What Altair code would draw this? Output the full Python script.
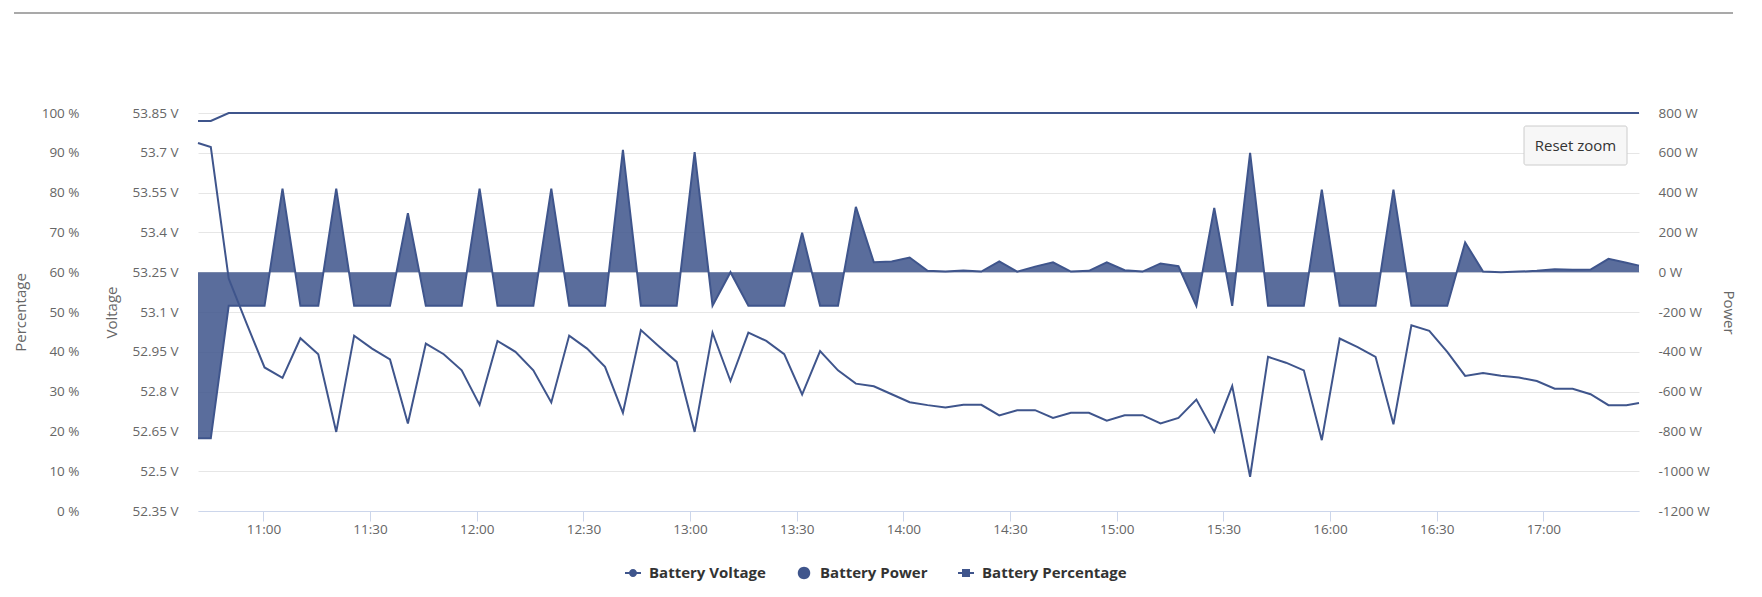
import altair as alt
import pandas as pd

# ---- data ----
times = [
    "10:41:36",
    "10:45:12", "10:50:14", "10:55:17", "11:00:19", "11:05:22", "11:10:24", "11:15:26", "11:20:29", "11:25:31", "11:30:34",
    "11:35:36", "11:40:38", "11:45:41", "11:50:43", "11:55:46", "12:00:48", "12:05:50", "12:10:53", "12:15:55", "12:20:58",
    "12:26:00", "12:31:02", "12:36:05", "12:41:07", "12:46:10", "12:51:12", "12:56:14", "13:01:17", "13:06:19", "13:11:22",
    "13:16:24", "13:21:26", "13:26:29", "13:31:31", "13:36:34", "13:41:36", "13:46:38", "13:51:41", "13:56:43", "14:01:46",
    "14:06:48", "14:11:50", "14:16:53", "14:21:55", "14:26:58", "14:32:00", "14:37:02", "14:42:05", "14:47:07", "14:52:10",
    "14:57:12", "15:02:14", "15:07:17", "15:12:19", "15:17:22", "15:22:24", "15:27:26", "15:32:29", "15:37:31", "15:42:34",
    "15:47:36", "15:52:38", "15:57:41", "16:02:43", "16:07:46", "16:12:48", "16:17:50", "16:22:53", "16:27:55", "16:32:58",
    "16:38:00", "16:43:02", "16:48:05", "16:53:07", "16:58:10", "17:03:12", "17:08:14", "17:13:17", "17:18:19", "17:23:22",
    "17:26:54",
]

voltage = [
    53.737,
    53.722, 53.226, 53.056, 52.891, 52.852, 53.001, 52.941, 52.648, 53.011, 52.962,
    52.921, 52.680, 52.981, 52.941, 52.880, 52.750, 52.991, 52.950, 52.880, 52.759,
    53.011, 52.962, 52.893, 52.720, 53.032, 52.971, 52.912, 52.648, 53.022, 52.840,
    53.022, 52.991, 52.941, 52.789, 52.953, 52.880, 52.830, 52.820, 52.790, 52.760,
    52.749, 52.740, 52.750, 52.750, 52.710, 52.730, 52.730, 52.701, 52.720, 52.720,
    52.690, 52.711, 52.711, 52.680, 52.701, 52.770, 52.648, 52.821, 52.479, 52.931,
    52.909, 52.880, 52.617, 53.000, 52.968, 52.931, 52.677, 53.050, 53.029, 52.950,
    52.859, 52.870, 52.860, 52.853, 52.840, 52.811, 52.811, 52.790, 52.749, 52.749,
    52.757,
]

power = [
    -834,
    -834, -169, -169, -169, 420, -169, -169, 420, -169, -169,
    -169, 297, -169, -169, -169, 420, -169, -169, -169, 420,
    -169, -169, -169, 615, -169, -169, -169, 603, -169, 0,
    -169, -169, -169, 198, -169, -169, 328, 50, 54, 74,
    7, 3, 8, 3, 54, 3, 28, 50, 3, 7,
    50, 10, 3, 44, 30, -169, 323, -169, 600, -169,
    -169, -169, 415, -169, -169, -169, 415, -169, -169, -169,
    150, 3, 0, 3, 7, 15, 12, 13, 67, 47,
    33,
]

percentage = [
    98,
    98, 100, 100, 100, 100, 100, 100, 100, 100, 100,
    100, 100, 100, 100, 100, 100, 100, 100, 100, 100,
    100, 100, 100, 100, 100, 100, 100, 100, 100, 100,
    100, 100, 100, 100, 100, 100, 100, 100, 100, 100,
    100, 100, 100, 100, 100, 100, 100, 100, 100, 100,
    100, 100, 100, 100, 100, 100, 100, 100, 100, 100,
    100, 100, 100, 100, 100, 100, 100, 100, 100, 100,
    100, 100, 100, 100, 100, 100, 100, 100, 100, 100,
    100,
]

time_ticks = ["11:00", "11:30", "12:00", "12:30", "13:00", "13:30", "14:00",
              "14:30", "15:00", "15:30", "16:00", "16:30", "17:00"]
voltage_ticks = [52.35, 52.5, 52.65, 52.8, 52.95, 53.1, 53.25, 53.4, 53.55, 53.7, 53.85]
percent_ticks = [0, 10, 20, 30, 40, 50, 60, 70, 80, 90, 100]
power_ticks = [-1200, -1000, -800, -600, -400, -200, 0, 200, 400, 600, 800]
series_names = ["Battery Voltage", "Battery Power", "Battery Percentage"]

# ---- styling ----
C = "#3f558c"
FONT = "Open Sans"
LABEL = "#666666"

df = pd.DataFrame({
    "time": ["2024-05-01T" + t for t in times],
    "voltage": voltage,
    "power": power,
    "percentage": percentage,
})

tick_values = [
    alt.DateTime(year=2024, month=5, date=1,
                 hours=int(t.split(":")[0]), minutes=int(t.split(":")[1]))
    for t in time_ticks
]

x_enc = alt.X(
    "time:T",
    scale=alt.Scale(nice=False),
    axis=alt.Axis(
        title=None, format="%H:%M", values=tick_values,
        grid=False, domainColor="#ccd6eb", tickColor="#ccd6eb",
        tickSize=10, labelPadding=1, labelFlush=False,
    ),
)

base = alt.Chart(df)

power_layer = base.mark_area(
    color=C, fillOpacity=0.86, line={"color": C, "strokeWidth": 2}
).encode(
    x=x_enc,
    y=alt.Y(
        "power:Q",
        scale=alt.Scale(domain=[-1200, 800], nice=False, zero=False),
        axis=alt.Axis(
            orient="right", values=power_ticks, labelExpr="datum.value + ' W'",
            title="Power", grid=True, gridColor="#e6e6e6", domain=False, ticks=False,
            labelPadding=19, titlePadding=11,
        ),
    ),
    y2=alt.datum(0),
)

voltage_layer = base.mark_line(color=C, strokeWidth=2).encode(
    x=x_enc,
    y=alt.Y(
        "voltage:Q",
        scale=alt.Scale(domain=[52.35, 53.85], nice=False, zero=False),
        axis=alt.Axis(
            orient="left", values=voltage_ticks,
            labelExpr="format(datum.value, '.2~f') + ' V'",
            title="Voltage", grid=False, domain=False, ticks=False,
            labelPadding=20, titlePadding=13,
        ),
    ),
)

percent_layer = base.mark_line(color=C, strokeWidth=2).encode(
    x=x_enc,
    y=alt.Y(
        "percentage:Q",
        scale=alt.Scale(domain=[0, 100], nice=False, zero=False),
        axis=alt.Axis(
            orient="left", offset=99, values=percent_ticks,
            labelExpr="datum.value + ' %'",
            title="Percentage", grid=False, domain=False, ticks=False,
            labelPadding=20, titlePadding=13,
        ),
    ),
)

# legend symbols as filled paths: line segment + marker
v_path = "M-1,-0.125H1V0.125H-1Z M-0.5,0A0.5,0.5,0,1,1,0.5,0A0.5,0.5,0,1,1,-0.5,0Z"
p_path = "M-0.78,0A0.78,0.78,0,1,1,0.78,0A0.78,0.78,0,1,1,-0.78,0Z"
pct_path = "M-1,-0.125H1V0.125H-1Z M-0.5,-0.5H0.5V0.5H-0.5Z"

legend_df = pd.DataFrame({"series": series_names})
legend_layer = alt.Chart(legend_df).mark_point(
    filled=True, fill=C, opacity=0
).encode(
    x=alt.value(10),
    y=alt.value(10),
    shape=alt.Shape(
        "series:N",
        scale=alt.Scale(domain=series_names, range=[v_path, p_path, pct_path]),
        legend=alt.Legend(
            title=None, orient="none", legendX=427, legendY=452,
            direction="horizontal", labelFont=FONT, labelFontSize=15,
            labelFontWeight="bold", labelColor="#333333", symbolSize=256,
            symbolStrokeWidth=0, symbolFillColor=C,
            symbolOpacity=1, labelOffset=8, columnPadding=30, padding=0,
        ),
    ),
)

btn_df = pd.DataFrame({"label": ["Reset zoom"]})
btn_rect = alt.Chart(btn_df).mark_rect(
    fill="#f7f7f7", stroke="#cccccc", strokeWidth=1, cornerRadius=2
).encode(x=alt.value(1326), x2=alt.value(1429), y=alt.value(13), y2=alt.value(52))
btn_text = alt.Chart(btn_df).mark_text(
    font=FONT, fontSize=15, color="#333333", align="center", baseline="middle"
).encode(x=alt.value(1377.5), y=alt.value(32.5), text="label:N")

top_rule = alt.Chart(btn_df).mark_rule(color="#8c8c8c", strokeWidth=1.5).encode(
    x=alt.value(-184), x2=alt.value(1535), y=alt.value(-100)
)

chart = (
    alt.layer(power_layer, voltage_layer, percent_layer, legend_layer,
              top_rule, btn_rect, btn_text)
    .resolve_scale(y="independent")
    .properties(
        width=1441, height=398,
        padding={"left": 5, "top": 4, "right": 5, "bottom": 5},
        background="white",
    )
    .configure(font=FONT)
    .configure_axis(
        labelFont=FONT, titleFont=FONT, labelColor=LABEL, titleColor=LABEL,
        labelFontSize=13.5, titleFontSize=15, titleFontWeight="normal",
    )
    .configure_view(strokeWidth=0)
)

chart.save("out.html", embed_options={"renderer": "svg", "actions": False})
